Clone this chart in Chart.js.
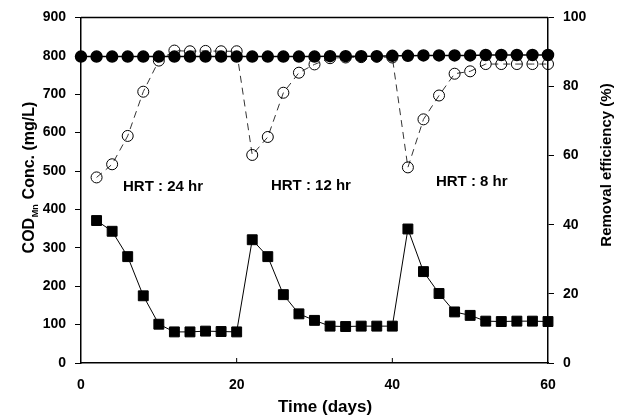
<!DOCTYPE html>
<html><head><meta charset="utf-8">
<script src="https://cdn.jsdelivr.net/npm/chart.js@4/dist/chart.umd.min.js"></script>
<style>html,body{margin:0;padding:0;background:#fff}#wrap{width:624px;height:418px}</style>
</head><body><div id="wrap"><canvas id="c" width="624" height="418"></canvas></div>
<script>
// ---- data ----
const influentDays = [0,2,4,6,8,10,12,14,16,18,20,22,24,26,28,30,32,34,36,38,40,42,44,46,48,50,52,54,56,58,60];
const influentCOD  = [798,798,798,798,798,798,798,798,798,798,798,798,798,798,798,798,799,799,799,799,800,800,801,801,801,801,802,802,802,802,802];
const effluentDays = [2,4,6,8,10,12,14,16,18,20,22,24,26,28,30,32,34,36,38,40,42,44,46,48,50,52,54,56,58,60];
const effluentCOD  = [371,343,277,175,101,81,81,83,82,81,321,277,178,128,111,96,95,96,96,96,349,238,181,133,124,109,108,109,109,108];
const removalEff   = [53.7,57.5,65.7,78.5,87.5,90.4,90.2,90.3,90.2,90.2,60.2,65.4,78.2,84.0,86.4,88.2,88.4,88.5,88.6,88.4,56.6,70.5,77.4,83.7,84.4,86.5,86.5,86.5,86.5,86.5];
const xTicks = [0,20,40,60];
const leftTicks = [0,100,200,300,400,500,600,700,800,900];
const rightTicks = [0,20,40,60,80,100];
const hrtLabels = ['HRT : 24 hr','HRT : 12 hr','HRT : 8 hr'];
const xTitle = 'Time (days)';
const yTitleParts = ['COD','Mn',' Conc. (mg/L)'];
const y2Title = 'Removal efficiency (%)';

const FONT = '"Liberation Sans", Arial, sans-serif';
const toXY = (xs, ys) => xs.map((x,i)=>({x, y: ys[i]}));

const decor = {
  id: 'decor',
  afterDraw(chart) {
    const {ctx, chartArea: a, scales} = chart;
    ctx.save();
    ctx.strokeStyle = '#000'; ctx.lineWidth = 1.5;
    ctx.beginPath(); ctx.moveTo(a.left, a.top); ctx.lineTo(a.right, a.top); ctx.stroke();
    // inward x ticks
    ctx.lineWidth = 1;
    [20,40].forEach(v => {
      const px = scales.x.getPixelForValue(v);
      ctx.beginPath(); ctx.moveTo(px, a.bottom); ctx.lineTo(px, a.bottom - 5); ctx.stroke();
    });
    ctx.fillStyle = '#000';
    // HRT labels
    ctx.font = 'bold 15px ' + FONT;
    ctx.textBaseline = 'middle'; ctx.textAlign = 'left';
    const pos = [[5.4, 460], [24.4, 462], [45.6, 471]];
    hrtLabels.forEach((t,i) => {
      ctx.fillText(t, scales.x.getPixelForValue(pos[i][0]), scales.y.getPixelForValue(pos[i][1]));
    });
    // x title
    ctx.font = 'bold 17px ' + FONT;
    ctx.textAlign = 'center';
    ctx.fillText(xTitle, 325, 407);
    // right title
    ctx.save();
    ctx.translate(607, 165); ctx.rotate(-Math.PI/2);
    ctx.font = 'bold 15px ' + FONT;
    ctx.fillText(y2Title, 0, 0);
    ctx.restore();
    // left title with subscript
    ctx.save();
    ctx.translate(30, 178); ctx.rotate(-Math.PI/2);
    const big = 'bold 16px ' + FONT, small = 'bold 9px ' + FONT;
    ctx.font = big; const w1 = ctx.measureText(yTitleParts[0]).width, w3 = ctx.measureText(yTitleParts[2]).width;
    ctx.font = small; const w2 = ctx.measureText(yTitleParts[1]).width;
    let x0 = -(w1+w2+w3)/2;
    ctx.textAlign = 'left';
    ctx.font = big; ctx.fillText(yTitleParts[0], x0, 0);
    ctx.font = small; ctx.fillText(yTitleParts[1], x0 + w1 + 0.5, 6);
    ctx.font = big; ctx.fillText(yTitleParts[2], x0 + w1 + w2 + 1, 0);
    ctx.restore();
    ctx.restore();
  }
};

new Chart(document.getElementById('c'), {
  type: 'line',
  data: {
    datasets: [
      { label: 'Influent', data: toXY(influentDays, influentCOD), yAxisID: 'y',
        borderColor: '#000', borderWidth: 1.5, pointStyle: 'circle', pointRadius: 5.5,
        pointBackgroundColor: '#000', pointBorderColor: '#000', clip: false, order: 1 },
      { label: 'Removal', data: toXY(effluentDays, removalEff), yAxisID: 'y2',
        borderColor: '#333', borderWidth: 1, borderDash: [7,5], pointStyle: 'circle', pointRadius: 5.5,
        pointBackgroundColor: 'rgba(0,0,0,0)', pointBorderColor: '#000', pointBorderWidth: 1, clip: false, order: 2 },
      { label: 'Effluent', data: toXY(effluentDays, effluentCOD), yAxisID: 'y',
        borderColor: '#000', borderWidth: 1, pointStyle: 'rect', pointRadius: 7,
        pointBackgroundColor: '#000', pointBorderColor: '#000', clip: false, order: 3 }
    ]
  },
  options: {
    responsive: false, devicePixelRatio: 1, animation: false,
    layout: { padding: { top: 16, left: 0, right: 0, bottom: 0 } },
    plugins: { legend: { display: false }, tooltip: { enabled: false } },
    scales: {
      x: { type: 'linear', min: 0, max: 60, position: 'bottom',
        afterBuildTicks: s => { s.ticks = xTicks.map(v => ({value: v})); },
        ticks: { font: { family: FONT, size: 14, weight: 'bold' }, color: '#000', padding: 14, maxRotation: 0 },
        grid: { drawOnChartArea: false, drawTicks: false },
        border: { color: '#000', width: 1.5 },
        afterFit: s => { s.height = 55; } },
      y: { min: 0, max: 900, position: 'left',
        afterBuildTicks: s => { s.ticks = leftTicks.map(v => ({value: v})); },
        ticks: { font: { family: FONT, size: 14, weight: 'bold' }, color: '#000', padding: 9 },
        grid: { drawOnChartArea: false, tickLength: 6, tickColor: '#000' },
        border: { color: '#000', width: 1.5 },
        afterFit: s => { s.width = 81; } },
      y2: { min: 0, max: 100, position: 'right',
        afterBuildTicks: s => { s.ticks = rightTicks.map(v => ({value: v})); },
        ticks: { font: { family: FONT, size: 14, weight: 'bold' }, color: '#000', padding: 9 },
        grid: { drawOnChartArea: false, tickLength: 6, tickColor: '#000' },
        border: { color: '#000', width: 1.5 },
        afterFit: s => { s.width = 76; } }
    }
  },
  plugins: [decor]
});
</script></body></html>
